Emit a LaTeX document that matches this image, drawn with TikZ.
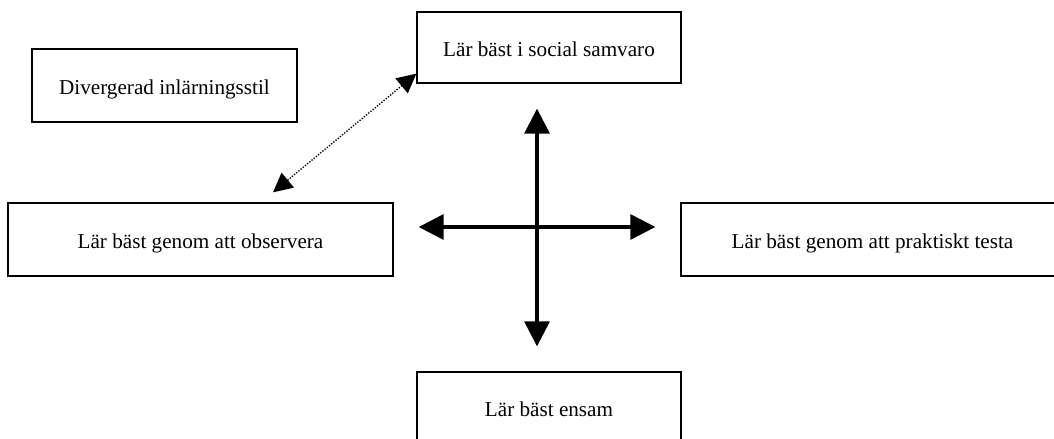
\documentclass[tikz,border=0pt]{standalone}
\usepackage{fontspec}
\setmainfont{Liberation Serif}
\usetikzlibrary{arrows.meta}

\begin{document}
\begin{tikzpicture}[x=0.6pt,y=-0.6pt]
%%%%%%%%%%%%%%%%%%%%%%%%%%%%%%%%%%%%%%%%%%%%%%%%%%%%%%%%%%%%%%
%styles
\tikzstyle{textbox}=[rectangle,fill=white,draw=black,line width=0.8pt,inner sep=0pt,font=\fontsize{12.7}{15}\selectfont,text height=2.4ex,text depth=0pt]
\tikzstyle{bigarrow}=[{Triangle[length=15pt,width=15pt]}-{Triangle[length=15pt,width=15pt]},line width=2pt,shorten <=15pt,shorten >=15pt]
\tikzstyle{dotarrow}=[{Triangle[length=11.5pt,width=11.5pt]}-{Triangle[length=11.5pt,width=11.5pt]},line width=0.8pt,dash pattern=on 0.8pt off 0.9pt]
\useasboundingbox (0,0) rectangle (1054,438);
\clip (0,0) rectangle (1054,438);
%boxes
\node[textbox,minimum width=159pt,minimum height=43.8pt] (diverg) at (164.5,85.5) {Divergerad inlärningsstil};
\node[textbox,minimum width=158.4pt,minimum height=42.6pt] (social) at (549,47.5) {Lär bäst i social samvaro};
\node[textbox,minimum width=231pt,minimum height=43.8pt] (observe) at (200.5,239.5) {Lär bäst genom att observera};
\node[textbox,minimum width=229.8pt,minimum height=43.8pt] (testa) at (872.5,239.5) {Lär bäst genom att praktiskt testa};
\node[textbox,minimum width=158.4pt,minimum height=42.6pt] (ensam) at (549,407.5) {Lär bäst ensam};
%%cross centre
\coordinate (mid) at (537,227);
%%%%%%%%%%%%%%%%%%%%%%%%%%%%%%%%%%%%%%%%%%%%%%%%%%%%%%%%%%%%%%
%ARROWS
\draw[bigarrow] (mid |- social.south) -- (mid |- ensam.north);
\draw[bigarrow] (observe.east |- mid) -- (testa.west |- mid);
\draw[dotarrow] ([xshift=43.5pt,yshift=6pt]observe.north) -- ([yshift=6pt]social.south west);
\end{tikzpicture}
\end{document}
